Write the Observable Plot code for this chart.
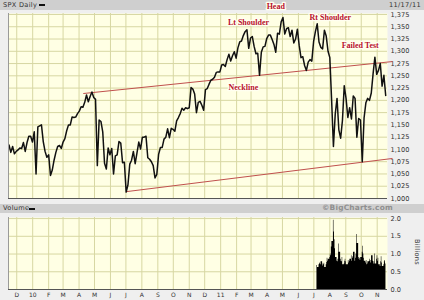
<!DOCTYPE html>
<html><head><meta charset="utf-8">
<script src="https://cdn.jsdelivr.net/npm/d3@7"></script>
<script src="https://cdn.jsdelivr.net/npm/@observablehq/plot@0.6"></script>
<style>
body{margin:0;background:#fff;}
#wrap{position:relative;width:424px;height:300px;background:#efefef;overflow:hidden;font-family:"DejaVu Sans",sans-serif;}
.band{position:absolute;left:0;width:424px;background:#cfcfcf;}
.lbl{position:absolute;font-size:6.6px;color:#333;white-space:nowrap;letter-spacing:0.3px;}
.bar{position:absolute;background:#111;height:2px;width:6px;}
#price,#volume{position:absolute;left:0;}
#price{top:0}
#volume{top:200px}
</style></head><body>
<div id="wrap">
  <div class="band" style="top:0;height:10px"></div>
  <div class="band" style="top:204px;height:9px"></div>
  <div class="lbl" style="left:3px;top:1px">SPX Daily</div>
  <div class="bar" style="left:39px;top:4px"></div>
  <div class="lbl" style="left:389px;top:1px">11/17/11</div>
  <div class="lbl" style="left:3px;top:204px">Volume</div>
  <div class="bar" style="left:29px;top:208px"></div>
  <div class="lbl" style="left:322px;top:203px;font-weight:bold;color:#8f8f8f;font-size:7.4px;letter-spacing:0.2px;width:64px;text-align:right">©BigCharts.com</div>
  <div class="lbl" style="left:397px;top:248px;width:40px;height:8px;line-height:8px;text-align:center;transform:rotate(90deg);transform-origin:center;">Billions</div>
  <div id="price"></div>
  <div id="volume"></div>
</div>
<script>
// ---- data ----
const priceStart = "2009-11-16";
const priceStepDays = 3.5;
const priceValues = [
1109,1094,1106,1091,1096,1099,1103,1102,1114,1096,1114,1127,1127,1115,
1136,1050,1146,1148,1150,1116,1096,1084,1089,1047,1058,1078,1094,1106,1108,1102,
1115,1122,1138,1150,1150,1166,1165,1166,1173,1178,1187,1186,1196,1211,1197,1208,1217,1206,
1202,1067,1160,1157,1136,1072,1060,1103,1089,1102,1050,1087,1089,1116,1113,1073,1074,
1013,1028,1070,1078,1096,1071,1093,1115,1101,1125,1125,1127,1083,1080,1075,1067,1042,1049,
1090,1104,1104,1121,1125,1142,1124,1143,1141,1137,1158,1165,1173,1184,1180,1185,1183,
1185,1226,1223,1213,1175,1196,1198,1190,1180,1222,1224,1233,1241,1243,1247,1257,1258,1258,
1272,1273,1269,1283,1294,1280,1291,1299,1286,1307,1319,1321,1332,1340,1344,1306,1327,
1330,1310,1295,1296,1251,1298,1309,1310,1326,1333,1333,1324,1314,1298,1337,1335,1360,
1369,1335,1346,1348,1330,1343,1317,1325,1345,1312,1287,1289,1271,1261,1278,1283,1280,
1320,1340,1356,1319,1308,1305,1343,1331,1300,1287,1200,1106,1172,1204,1140,1123,1159,
1230,1204,1165,1185,1162,1209,1204,1125,1163,1160,1075,1164,1195,1204,1200,1215,1254,
1288,1253,1261,1275,1229,1251,1210
];
const necklineDates = ["2010-04-10","2011-11-30"];
const necklineValues = [1214, 1279];
const supportDates = ["2010-07-02","2011-11-30"];
const supportValues = [1014, 1081.5];

const volumeStart = "2011-07-07";
const volumeEnd = "2011-11-17";
const marketHolidays = ["2011-09-05"];
const volumeValues = [
0.68,0.62,0.70,0.72,0.75,0.70,0.78,0.66,0.72,0.70,0.74,0.62,0.70,0.76,0.88,0.80,0.85,
0.90,1.00,0.95,1.20,1.35,1.95,1.62,1.40,1.15,0.90,0.80,0.78,0.85,1.28,1.05,0.85,0.80,0.78,0.90,0.70,0.72,0.80,0.85,
0.78,0.70,0.82,0.75,0.80,0.85,0.95,0.80,0.88,0.92,1.05,0.80,0.88,1.00,1.55,1.30,0.90,0.85,0.88,0.82,0.90,
1.05,1.22,1.00,0.88,0.80,0.75,0.82,0.70,0.72,0.78,0.80,0.85,0.75,0.82,0.95,0.80,0.72,0.78,1.00,0.72,0.85,
0.95,0.80,0.88,0.70,0.65,0.78,0.92,0.75,0.65,0.70,0.78,0.82,0.72
];

const priceTicks = [1000,1025,1050,1075,1100,1125,1150,1175,1200,1225,1250,1275,1300,1325,1350,1375];
const volumeTicks = [0, 0.5, 1.0, 1.5, 2.0];
const monthLabels = ["D","10","F","M","A","M","J","J","A","S","O","N","D","11","F","M","A","M","J","J","A","S","O","N"];
const annotationLabels = ["Lt Shoulder","Head","Rt Shoulder","Neckline","Failed Test"];
const annotationDates = ["2011-02-24","2011-04-18","2011-08-02","2011-02-14","2011-09-29"];
const annotationValues = [1359, 1391, 1369, 1226, 1312];

// ---- build tables ----
const t0 = new Date(priceStart + "T00:00:00Z");
const price = priceValues.map((v, i) => ({date: new Date(+t0 + i * priceStepDays * 864e5), v}));
const neck = necklineDates.map((d, i) => ({date: new Date(d), v: necklineValues[i]}));
const support = supportDates.map((d, i) => ({date: new Date(d), v: supportValues[i]}));
const hol = new Set(marketHolidays);
const tradingDays = d3.utcDay.range(new Date(volumeStart), d3.utcDay.offset(new Date(volumeEnd), 1))
  .filter(d => d.getUTCDay() !== 0 && d.getUTCDay() !== 6 && !hol.has(d3.utcFormat("%Y-%m-%d")(d)));
const volume = volumeValues.map((v, i) => ({date: tradingDays[i], v}));
volume.push({date: d3.utcDay.offset(tradingDays[volumeValues.length - 1], 1), v: volumeValues[volumeValues.length - 1]});
const notes = annotationLabels.map((t, i) => ({t, date: new Date(annotationDates[i]), v: annotationValues[i]}));

const monthStarts = d3.utcMonth.range(new Date("2009-12-01"), new Date("2011-11-22"));
const monthLabelMap = new Map(monthStarts.map((d, i) => [+d, monthLabels[i]]));

const xDomain = [new Date("2009-11-15"), new Date("2011-11-21")];
const gridColor = "#d7d7a2";
const plotBg = "#ffffe4";
const styleBase = {background: "transparent", fontFamily: "DejaVu Sans", fontSize: "6.6px", color: "#333", overflow: "visible"};

const pricePlot = Plot.plot({
  width: 424, height: 200,
  marginTop: 13, marginBottom: 2, marginLeft: 8, marginRight: 37,
  style: styleBase,
  x: {type: "utc", domain: xDomain, axis: null},
  y: {domain: [1000, 1377], axis: null},
  marks: [
    Plot.frame({fill: plotBg, stroke: null}),
    Plot.ruleY(priceTicks, {stroke: gridColor, strokeWidth: 1}),
    Plot.ruleX(monthStarts, {stroke: gridColor, strokeWidth: 1}),
    Plot.axisY({anchor: "right", ticks: priceTicks, tickFormat: d3.format(","), tickSize: 0, tickPadding: 3, label: null}),
    Plot.line(neck, {x: "date", y: "v", stroke: "#c0504d", strokeWidth: 1, clip: false}),
    Plot.line(support, {x: "date", y: "v", stroke: "#c0504d", strokeWidth: 1, clip: false}),
    Plot.line(price, {x: "date", y: "v", stroke: "#111", strokeWidth: 1.5}),
    Plot.ruleX([xDomain[0]], {stroke: "#9a9a9a"}),
    Plot.ruleY([1000], {stroke: "#555", strokeWidth: 1.2}),
    Plot.text(notes, {x: "date", y: "v", text: "t", fill: "#b8102c", stroke: "#fffff0", strokeWidth: 2.5,
      fontFamily: "Liberation Serif", fontWeight: "bold", fontSize: 8})
  ]
});
document.getElementById("price").appendChild(pricePlot);

const volumePlot = Plot.plot({
  width: 424, height: 100,
  marginTop: 17, marginBottom: 11, marginLeft: 8, marginRight: 37,
  style: styleBase,
  x: {type: "utc", domain: xDomain, axis: null},
  y: {domain: [0, 2.03], axis: null},
  marks: [
    Plot.frame({fill: plotBg, stroke: null}),
    Plot.ruleY(volumeTicks, {stroke: gridColor}),
    Plot.ruleX(monthStarts, {stroke: gridColor}),
    Plot.areaY(volume, {x: "date", y: "v", fill: "#000", curve: "step-after"}),
    Plot.axisY({anchor: "right", ticks: volumeTicks, tickFormat: d3.format(".1f"), tickSize: 0, tickPadding: 3, label: null}),
    Plot.axisX({anchor: "bottom", ticks: monthStarts, tickFormat: d => monthLabelMap.get(+d), tickSize: 0, tickPadding: 3, label: null, fontSize: 6}),
    Plot.ruleX([xDomain[0]], {stroke: "#9a9a9a"}),
    Plot.ruleY([0], {stroke: "#555", strokeWidth: 1.2})
  ]
});
document.getElementById("volume").appendChild(volumePlot);
</script>
</body></html>
